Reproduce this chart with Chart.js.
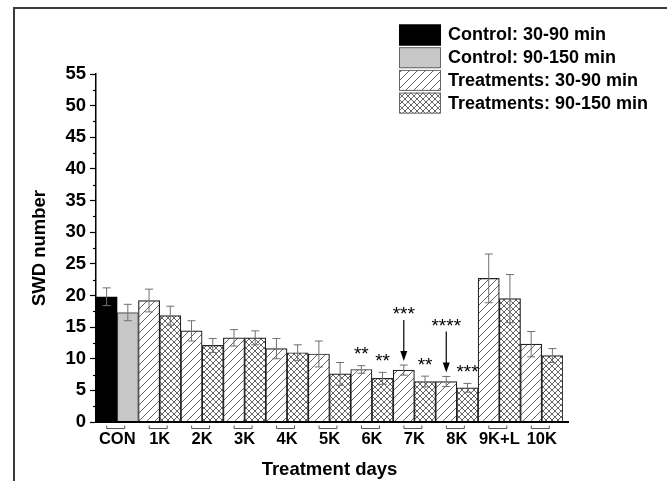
<!DOCTYPE html>
<html>
<head>
<meta charset="utf-8">
<script src="https://cdn.jsdelivr.net/npm/chart.js@4.4.1/dist/chart.umd.min.js"></script>
<style>
  html, body { margin: 0; padding: 0; background: #fff; }
  #wrap { position: relative; width: 667px; height: 481px; }
</style>
</head>
<body>
<div id="wrap"><canvas id="chart"></canvas></div>
<script>
const days = ["CON", "1K", "2K", "3K", "4K", "5K", "6K", "7K", "8K", "9K+L", "10K"];
// SWD number, 30-90 min and 90-150 min windows
const early = [19.8, 19.2, 14.4, 13.3, 11.6, 10.75, 8.3, 8.2, 6.4, 22.7, 12.3];
const late = [17.3, 16.8, 12.1, 13.3, 10.95, 7.6, 6.9, 6.4, 5.4, 19.5, 10.5];
const earlyErr = [1.4, 1.8, 1.6, 1.3, 1.6, 2.05, 0.6, 0.8, 0.8, 3.85, 2.0];
const lateErr = [1.3, 1.5, 1.1, 1.1, 1.25, 1.8, 0.95, 0.85, 0.7, 3.8, 1.1];
const seriesNames = ["Control: 30-90 min", "Control: 90-150 min", "Treatments: 30-90 min", "Treatments: 90-150 min"];
// significance marks: day, series (0 = 30-90, 1 = 90-150), stars, arrow
const marks = [
  ["6K", 0, "**", false],
  ["6K", 1, "**", false],
  ["7K", 0, "***", true],
  ["7K", 1, "**", false],
  ["8K", 0, "****", true],
  ["8K", 1, "***", false],
];

const FONT = "'Liberation Sans', Arial, Helvetica, sans-serif";
Chart.defaults.font.family = FONT;
Chart.defaults.color = "#000";

function makePattern(size, cross) {
  const c = document.createElement("canvas");
  c.width = size;
  c.height = size;
  const g = c.getContext("2d");
  g.fillStyle = "#fff";
  g.fillRect(0, 0, size, size);
  g.strokeStyle = "#555";
  g.lineWidth = 0.9;
  g.beginPath();
  g.moveTo(-1, size + 1); g.lineTo(size + 1, -1);
  g.moveTo(-1, 1); g.lineTo(1, -1);
  g.moveTo(size - 1, size + 1); g.lineTo(size + 1, size - 1);
  if (cross) {
    g.moveTo(-1, -1); g.lineTo(size + 1, size + 1);
    g.moveTo(size - 1, -1); g.lineTo(size + 1, 1);
    g.moveTo(-1, size - 1); g.lineTo(1, size + 1);
  }
  g.stroke();
  return g.createPattern(c, "repeat");
}

const hatch = makePattern(8, false);
const crossHatch = makePattern(6, true);

const onlyControl = arr => arr.map((v, i) => (i === 0 ? v : null));
const onlyTreat = arr => arr.map((v, i) => (i === 0 ? null : v));

const datasets = [
  { label: seriesNames[0], data: onlyControl(early), stack: "early", backgroundColor: "#000", borderColor: "#000" },
  { label: seriesNames[1], data: onlyControl(late), stack: "late", backgroundColor: "#c8c8c8", borderColor: "#555" },
  { label: seriesNames[2], data: onlyTreat(early), stack: "early", backgroundColor: hatch, borderColor: "#222" },
  { label: seriesNames[3], data: onlyTreat(late), stack: "late", backgroundColor: crossHatch, borderColor: "#222" },
];
datasets.forEach(d => {
  d.borderWidth = 1.2;
  d.categoryPercentage = 1;
  d.barPercentage = 1;
});

const frameAndAxes = {
  id: "frameAndAxes",
  beforeDraw(chart) {
    const ctx = chart.ctx;
    ctx.save();
    ctx.strokeStyle = "#3a3a3a";
    ctx.lineWidth = 2;
    ctx.beginPath();
    ctx.moveTo(14, chart.height);
    ctx.lineTo(14, 8);
    ctx.lineTo(chart.width, 8);
    ctx.stroke();
    ctx.restore();
  },
  afterDatasetsDraw(chart) {
    const ctx = chart.ctx;
    const area = chart.chartArea;
    const y = chart.scales.y;
    const x = chart.scales.x;
    ctx.save();
    // error bars
    ctx.strokeStyle = "#707070";
    ctx.lineWidth = 1;
    chart.data.datasets.forEach((ds, di) => {
      const errs = di % 2 === 0 ? earlyErr : lateErr;
      chart.getDatasetMeta(di).data.forEach((bar, i) => {
        const v = ds.data[i];
        if (v === null) return;
        const top = y.getPixelForValue(v + errs[i]);
        const bot = y.getPixelForValue(v - errs[i]);
        ctx.beginPath();
        ctx.moveTo(bar.x, top); ctx.lineTo(bar.x, bot);
        ctx.moveTo(bar.x - 4, top); ctx.lineTo(bar.x + 4, top);
        ctx.moveTo(bar.x - 4, bot); ctx.lineTo(bar.x + 4, bot);
        ctx.stroke();
      });
    });
    // x axis line
    ctx.strokeStyle = "#000";
    ctx.lineWidth = 2;
    ctx.beginPath();
    ctx.moveTo(area.left - 1, area.bottom);
    ctx.lineTo(area.right + 6, area.bottom);
    ctx.stroke();
    // minor ticks on y
    ctx.lineWidth = 1.2;
    for (let v = 2.5; v < 55; v += 5) {
      const py = Math.round(y.getPixelForValue(v)) + 0.5;
      ctx.beginPath();
      ctx.moveTo(area.left - 3, py);
      ctx.lineTo(area.left, py);
      ctx.stroke();
    }
    // group brackets under categories
    ctx.strokeStyle = "#555";
    ctx.lineWidth = 1;
    days.forEach((d, i) => {
      const cx = x.getPixelForTick(i) - 1.5;
      const by = area.bottom + 6.5;
      ctx.beginPath();
      ctx.moveTo(cx - 9, by - 3);
      ctx.lineTo(cx - 9, by);
      ctx.lineTo(cx + 9, by);
      ctx.lineTo(cx + 9, by - 3);
      ctx.stroke();
    });
    // significance marks
    ctx.fillStyle = "#000";
    ctx.strokeStyle = "#000";
    ctx.font = "19px " + FONT;
    ctx.textAlign = "center";
    ctx.textBaseline = "middle";
    marks.forEach(([day, series, stars, arrow]) => {
      const i = days.indexOf(day);
      const di = series === 0 ? 2 : 3;
      const bar = chart.getDatasetMeta(di).data[i];
      const v = series === 0 ? early[i] : late[i];
      const e = series === 0 ? earlyErr[i] : lateErr[i];
      const top = y.getPixelForValue(v + e);
      if (arrow) {
        const tip = top - 4;
        const tail = tip - 41;
        ctx.lineWidth = 1.2;
        ctx.beginPath();
        ctx.moveTo(bar.x, tail);
        ctx.lineTo(bar.x, tip - 8);
        ctx.stroke();
        ctx.beginPath();
        ctx.moveTo(bar.x - 3.5, tip - 10);
        ctx.lineTo(bar.x + 3.5, tip - 10);
        ctx.lineTo(bar.x, tip);
        ctx.closePath();
        ctx.fill();
        ctx.fillText(stars, bar.x, tail - 5);
      } else {
        ctx.fillText(stars, bar.x, top - 10.5);
      }
    });
    ctx.restore();
  },
  afterDraw(chart) {
    // legend block, top right
    const ctx = chart.ctx;
    ctx.save();
    ctx.font = "bold 18px " + FONT;
    ctx.textAlign = "left";
    ctx.textBaseline = "middle";
    chart.data.datasets.forEach((ds, i) => {
      const bx = 399;
      const by = 24.5 + i * 22.7;
      ctx.fillStyle = ds.backgroundColor;
      ctx.fillRect(bx, by, 42, 21);
      ctx.strokeStyle = i === 0 ? "#000" : "#666";
      ctx.lineWidth = 1;
      ctx.strokeRect(bx + 0.5, by + 0.5, 41, 20);
      ctx.fillStyle = "#000";
      ctx.fillText(ds.label, bx + 49, by + 11);
    });
    ctx.restore();
  },
};

new Chart(document.getElementById("chart"), {
  type: "bar",
  data: { labels: days, datasets },
  options: {
    responsive: true,
    maintainAspectRatio: false,
    animation: false,
    layout: { padding: { left: 0, top: 74, right: 104, bottom: 0 } },
    plugins: {
      legend: { display: false },
      tooltip: { enabled: false },
    },
    scales: {
      x: {
        stacked: true,
        grid: { display: false, drawTicks: false },
        border: { display: false },
        ticks: { font: { size: 16.5, weight: "bold" }, color: "#000", padding: 8, maxRotation: 0, autoSkip: false },
        title: { display: true, text: "Treatment days", font: { size: 18.5, weight: "bold" }, color: "#000", padding: { top: 0, bottom: 0 } },
        afterFit(s) { s.height = 59; },
      },
      y: {
        stacked: true,
        min: 0,
        max: 55,
        ticks: { stepSize: 5, font: { size: 18.5, weight: "bold" }, color: "#000", padding: 4 },
        grid: { drawOnChartArea: false, tickLength: 6, tickColor: "#000", tickWidth: 1.2 },
        border: { color: "#000", width: 1.5 },
        title: { display: true, text: "SWD number", font: { size: 18.5, weight: "bold" }, color: "#000", padding: { top: 29, bottom: 0 } },
        afterFit(s) { s.width = 96; },
      },
    },
  },
  plugins: [frameAndAxes],
});
</script>
</body>
</html>
